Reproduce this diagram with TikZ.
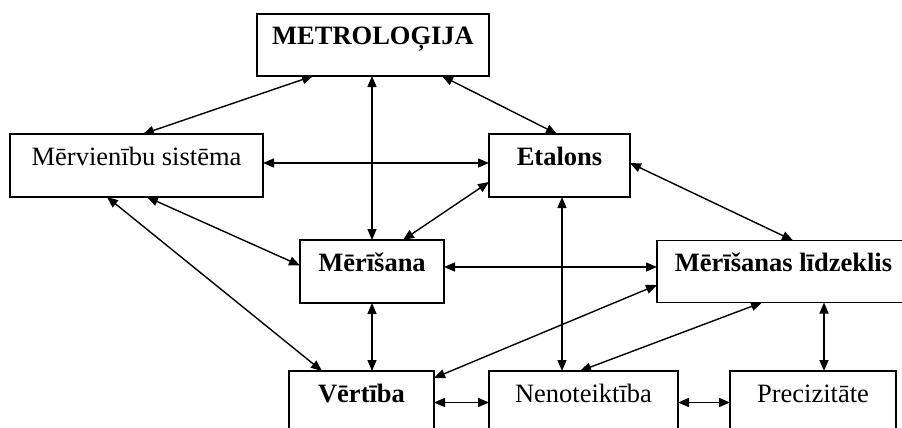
\documentclass[tikz,border=0pt]{standalone}
\usepackage{fontspec}
\setmainfont{Liberation Serif}
\usetikzlibrary{arrows.meta,calc}
\begin{document}
\begin{tikzpicture}[x=1pt,y=-1pt,
  box/.style={draw=black, line width=1.5pt, inner sep=0pt, outer sep=0pt,
    text height=31pt, text depth=31pt, align=center,
    font=\fontsize{26.5}{30}\selectfont},
  bbox/.style={box, font=\fontsize{26.5}{30}\selectfont\bfseries},
  arr/.style={line width=1.4pt, {Triangle[length=11pt,width=9pt]}-{Triangle[length=11pt,width=9pt]}}]
\useasboundingbox (0,0) rectangle (902,428);
\clip (0,0) rectangle (902,428);
\fill[white] (0,0) rectangle (902,428);
\node[bbox, minimum width=232pt, minimum height=62pt] (metro) at (373,45) {METROLOĢIJA};
\node[box, minimum width=253pt, minimum height=63pt] (merv) at (136.5,165.5) {Mērvienību sistēma};
\node[bbox, minimum width=141pt, minimum height=63pt] (etal) at (559.5,165.5) {Etalons};
\node[bbox, minimum width=144pt, minimum height=63pt] (meris) at (372,271.5) {Mērīšana};
\node[bbox, minimum width=253pt, minimum height=62pt] (mlidz) at (783.5,271.5) {Mērīšanas līdzeklis};
\node[bbox, minimum width=145pt, minimum height=63pt] (vert) at (361.5,402.5) {Vērtība};
\node[box, minimum width=189pt, minimum height=63pt] (nenot) at (583.5,402.5) {Nenoteiktība};
\node[box, minimum width=166pt, minimum height=63pt] (prec) at (813,402.5) {Precizitāte};
% connectors
\draw[arr] ($(metro.south west)+(56,0)$) -- ($(merv.north west)+(133,0)$);
\draw[arr] (metro.south -| meris.north) -- (meris.north);
\draw[arr] ($(metro.south east)+(-47,0)$) -- ($(etal.north west)+(68,0)$);
\draw[arr] ($(merv.east)+(0,-2.5)$) -- ($(etal.west)+(0,-2.5)$);
\draw[arr] ($(merv.south west)+(137,0)$) -- ($(meris.west)+(0,-6)$);
\draw[arr] ($(merv.south west)+(97,0)$) -- ($(vert.north west)+(33,0)$);
\draw[arr] ($(etal.west)+(0,16.5)$) -- ($(meris.north west)+(103,0)$);
\draw[arr] ($(etal.east)+(0,-2.5)$) -- ($(mlidz.north west)+(136,0)$);
\draw[arr] ($(etal.south west)+(73,0)$) -- ($(nenot.north west)+(73,0)$);
\draw[arr] ($(meris.east)+(0,-4.5)$) -- ($(mlidz.west)+(0,-4.5)$);
\draw[arr] (meris.south) -- (vert.north -| meris.south);
\draw[arr] ($(mlidz.west)+(0,13.5)$) -- ($(vert.north east)+(0,7)$);
\draw[arr] ($(mlidz.south west)+(105,0)$) -- ($(nenot.north west)+(91,0)$);
\draw[arr] ($(mlidz.south west)+(167,0)$) -- ($(prec.north west)+(94,0)$);
\draw[arr] (vert.east) -- (nenot.west);
\draw[arr] (nenot.east) -- (prec.west);
\end{tikzpicture}
\end{document}
